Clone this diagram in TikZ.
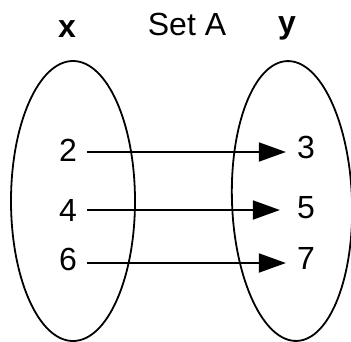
\documentclass[tikz,border=0pt]{standalone}
\usepackage{fontspec}
\setmainfont{Liberation Sans}
\usetikzlibrary{arrows.meta}
\begin{document}
\begin{tikzpicture}[x=1pt,y=-1pt,
  setring/.style={draw=black,line width=1.8pt},
  num/.style={font=\fontsize{32}{32}\selectfont,inner sep=0pt},
  head/.style={font=\bfseries\fontsize{32}{32}\selectfont,inner sep=0pt},
  maparrow/.style={line width=1.8pt,-{Triangle[length=27pt,width=19pt]},shorten <=10pt,shorten >=11pt}]
  \useasboundingbox (0,0) rectangle (351,341);
  % the two sets
  \draw[setring] (73,201) ellipse [x radius=62, y radius=140];
  \draw[setring,rotate around={2:(292,201)}] (292,201) ellipse [x radius=60, y radius=140];
  % headings
  \node[head] (hx) at (67,29) {x};
  \node[num] (title) at (187,24) {Set A};
  \node[head] (hy) at (287,28) {y};
  % domain values
  \node[num] (a2) at (68,150) {2};
  \node[num] (a4) at (68,210) {4};
  \node[num] (a6) at (68,259) {6};
  % range values
  \node[num] (b3) at (306,147) {3};
  \node[num] (b5) at (306,208) {5};
  \node[num] (b7) at (306,258) {7};
  % mapping arrows
  \draw[maparrow] (a2.east |- 0,152) -- (b3.west |- 0,152);
  \draw[maparrow,shorten >=17pt] (a4.east |- 0,210) -- (b5.west |- 0,210);
  \draw[maparrow] (a6.east |- 0,263) -- (b7.west |- 0,263);
\end{tikzpicture}
\end{document}
